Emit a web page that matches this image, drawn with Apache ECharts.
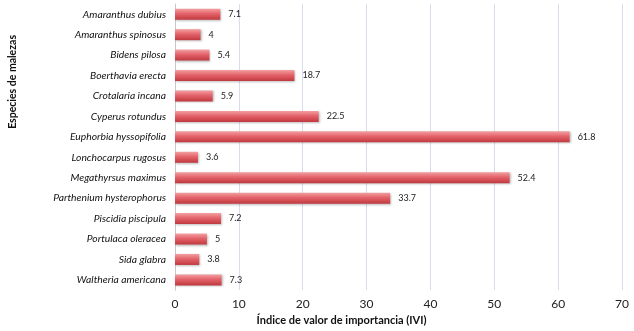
<!DOCTYPE html>
<html>
<head>
<meta charset="utf-8">
<script src="https://cdn.jsdelivr.net/npm/echarts@6/dist/echarts.min.js"></script>
<style>
  html, body { margin: 0; padding: 0; background: #fff; }
  #main { width: 634px; height: 331px; }
</style>
</head>
<body>
<div id="main"></div>
<script>
var especies = ['Amaranthus dubius', 'Amaranthus spinosus', 'Bidens pilosa', 'Boerthavia erecta',
  'Crotalaria incana', 'Cyperus rotundus', 'Euphorbia hyssopifolia', 'Lonchocarpus rugosus',
  'Megathyrsus maximus', 'Parthenium hysterophorus', 'Piscidia piscipula', 'Portulaca oleracea',
  'Sida glabra', 'Waltheria americana'];
var ivi = [7.1, 4, 5.4, 18.7, 5.9, 22.5, 61.8, 3.6, 52.4, 33.7, 7.2, 5, 3.8, 7.3];

var font = 'Lato, "Noto Sans", sans-serif';
var myChart = echarts.init(document.getElementById('main'));

var option = {
  animation: false,
  grid: { left: 175, right: 12, top: 4, bottom: 39, containLabel: false },
  xAxis: {
    type: 'value',
    min: 0, max: 70, interval: 10,
    axisLine: { show: false },
    axisTick: { show: false },
    axisLabel: { color: '#222', fontFamily: font, fontSize: 12, margin: 8 },
    splitLine: { show: true, lineStyle: { color: '#d5ddee', width: 1 } },
    name: 'Índice de valor de importancia (IVI)',
    nameLocation: 'middle',
    nameGap: 24,
    nameTextStyle: { fontFamily: font, fontWeight: 'bold', fontSize: 11, color: '#111', padding: [0, 114, 0, 0] }
  },
  yAxis: {
    type: 'category',
    inverse: true,
    data: especies,
    axisLine: { show: true, lineStyle: { color: '#c8c8c8' } },
    axisTick: { show: false },
    axisLabel: { fontFamily: font, fontStyle: 'italic', fontSize: 10.3, color: '#111', margin: 9 }
  },
  graphic: [{
    type: 'text',
    rotation: Math.PI / 2,
    style: {
      text: 'Especies de malezas',
      font: 'bold 10.5px ' + font,
      fill: '#111',
      textAlign: 'right',
      textVerticalAlign: 'middle'
    },
    x: 13, y: 35
  }],
  series: [{
    type: 'bar',
    data: ivi,
    barWidth: 11,
    itemStyle: {
      color: new echarts.graphic.LinearGradient(0, 0, 0, 1, [
        { offset: 0, color: '#f2a0a2' },
        { offset: 0.45, color: '#e4636a' },
        { offset: 1, color: '#c0393f' }
      ]),
      shadowColor: 'rgba(0,0,0,0.25)',
      shadowBlur: 2,
      shadowOffsetX: 1,
      shadowOffsetY: 1
    },
    label: {
      show: true,
      position: 'right',
      distance: 8,
      fontFamily: font,
      fontSize: 9,
      color: '#222'
    }
  }]
};

myChart.setOption(option);
</script>
</body>
</html>
